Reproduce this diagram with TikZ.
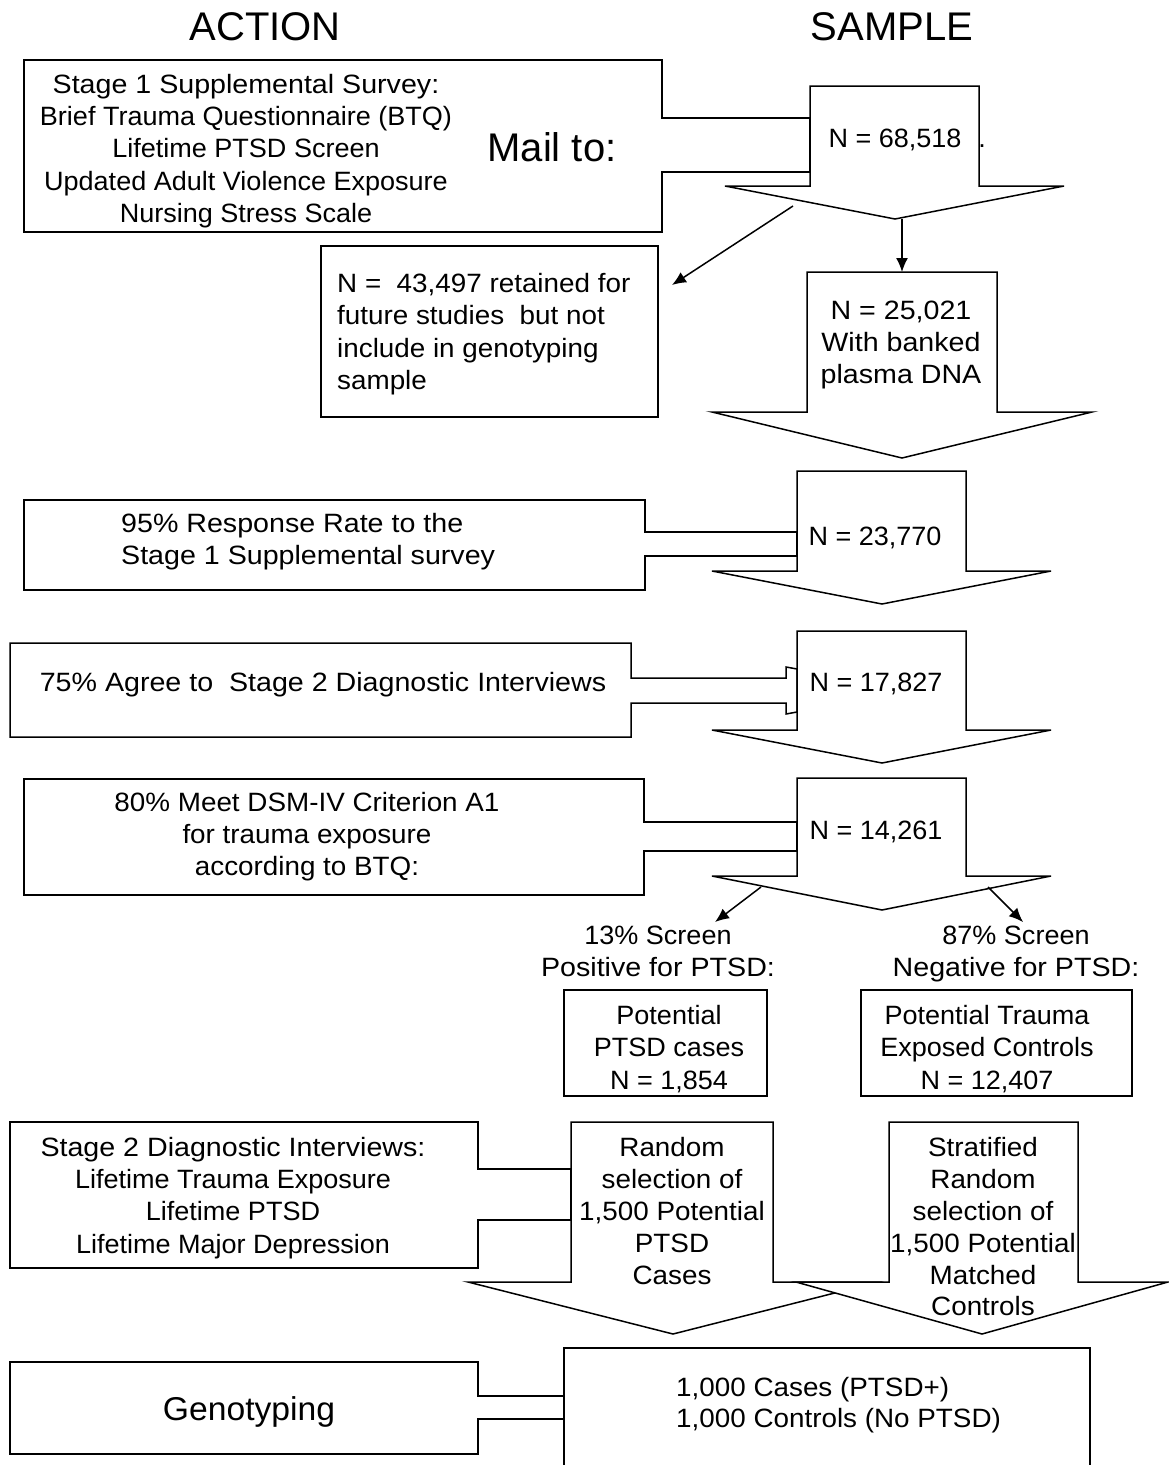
\documentclass[tikz,border=0pt]{standalone}
\usepackage{fontspec}
\setmainfont{Liberation Sans}
\newfontfamily\fA{Liberation Sans}[FakeStretch=1.02]
\newfontfamily\fB{Liberation Sans}[FakeStretch=1.05]
\newfontfamily\fC{Liberation Sans}[FakeStretch=1.08]
\usetikzlibrary{arrows.meta}
\tikzset{
  shp/.style={draw, line width=1.5pt, fill=white, line join=miter},
  arr/.style={line width=1.5pt, -{Latex[length=14pt,width=12pt]}},
  txt/.style={inner sep=0pt, align=center, font=\fontsize{26.5}{32.2}\fA},
  txtl/.style={inner sep=0pt, align=left, font=\fontsize{26.5}{32.2}\fA},
  big/.style={inner sep=0pt, font=\fontsize{40}{44}\selectfont},
}
\begin{document}
\begin{tikzpicture}[x=1pt,y=-1pt]
\useasboundingbox (0,0) rectangle (1169,1465);
\fill[white] (0,0) rectangle (1169,1465);

% headers
\node[big] (action) at (265,27) {ACTION};
\node[big] (sample) at (892,27) {SAMPLE};

% row 1
\draw[shp] (24,60) -- (662,60) -- (662,118) -- (810,118) -- (810,172) -- (662,172) -- (662,232) -- (24,232) -- cycle;
\draw[shp] (810,86) -- (979,86) -- (979,186) -- (1064,186) -- (895,219) -- (725,186) -- (810,186) -- cycle;
\node[txt] (s1) at (246,151) {{\fC Stage 1 Supplemental Survey:}\\Brief Trauma Questionnaire (BTQ)\\Lifetime PTSD Screen\\Updated Adult Violence Exposure\\Nursing Stress Scale};
\node[big] (mail) at (552,147) {Mail to:};
\node[txt] (n1) at (895,140) {N = 68,518};
\node[txt] (dot) at (982,146) {.};

% arrows out of first arrow
\coordinate (a1s) at (902,219);
\coordinate (a1e) at (902,272);
\coordinate (a2s) at (793,206);
\coordinate (a2e) at (672,285);
\draw[arr] (a1s) -- (a1e);
\draw[arr] (a2s) -- (a2e);

% retained box
\draw[shp] (321,246) rectangle (658,417);
\node[txtl, anchor=west, font=\fontsize{26.5}{32.3}\fB] (ret) at (337,334) {N =~~43,497 retained for\\future studies~~but not\\include in genotyping\\sample};

% banked DNA
\draw[shp] (807,272) -- (997,272) -- (997,412) -- (1092,412) -- (902,458) -- (712,412) -- (807,412) -- cycle;
\node[txt, font=\fontsize{26.5}{32.2}\fC] (n2) at (901,345) {N = 25,021\\With banked\\plasma DNA};

% row 3
\draw[shp] (24,500) -- (645,500) -- (645,532) -- (797,532) -- (797,556) -- (645,556) -- (645,590) -- (24,590) -- cycle;
\draw[shp] (797,471) -- (966,471) -- (966,571) -- (1051,571) -- (882,604) -- (712,571) -- (797,571) -- cycle;
\node[txtl, anchor=west, font=\fontsize{26.5}{32.2}\fC] (r3) at (121,542) {95\% Response Rate to the\\Stage 1 Supplemental survey};
\node[txt] (n3) at (875,538) {N = 23,770};

% row 4
\draw[shp] (10,643) -- (631,643) -- (631,678) -- (786,678) -- (786,667) -- (797,669) -- (797,712) -- (786,714) -- (786,703) -- (631,703) -- (631,737) -- (10,737) -- cycle;
\draw[shp] (797,631) -- (966,631) -- (966,730) -- (1051,730) -- (882,763) -- (712,730) -- (797,730) -- cycle;
\node[txt, font=\fontsize{26.5}{32.2}\fC] (r4) at (323,685) {75\% Agree to~~Stage 2 Diagnostic Interviews};
\node[txt] (n4) at (876,684) {N = 17,827};

% row 5
\draw[shp] (24,779) -- (644,779) -- (644,822) -- (797,822) -- (797,851) -- (644,851) -- (644,895) -- (24,895) -- cycle;
\draw[shp] (797,778) -- (966,778) -- (966,876) -- (1051,876) -- (882,910) -- (712,876) -- (797,876) -- cycle;
\node[txt, font=\fontsize{26.5}{32.2}\fB] (r5) at (307,836.5) {80\% Meet DSM-IV Criterion A1\\for trauma exposure\\according to BTQ:};
\node[txt] (n5) at (876,832) {N = 14,261};

\coordinate (a3s) at (761,887);
\coordinate (a3e) at (715,922);
\coordinate (a4s) at (988,887);
\coordinate (a4e) at (1023,922);
\draw[arr] (a3s) -- (a3e);
\draw[arr] (a4s) -- (a4e);

\node[txt] (pos) at (658,951) {13\% Screen\\{\fC Positive for PTSD:}};
\node[txt] (neg) at (1016,954) {87\% Screen\\{\fC Negative for PTSD:}};

\draw[shp] (564,990) rectangle (767,1096);
\node[txt] (pc) at (669,1049) {Potential\\PTSD cases\\N = 1,854};
\draw[shp] (861,990) rectangle (1132,1096);
\node[txt] (tc) at (987,1049) {Potential Trauma\\Exposed Controls\\N = 12,407};

% row 6
\draw[shp] (10,1122) -- (478,1122) -- (478,1169) -- (571,1169) -- (571,1220) -- (478,1220) -- (478,1268) -- (10,1268) -- cycle;
\node[txt] (r6) at (233,1198) {{\fC Stage 2 Diagnostic Interviews:}\\Lifetime Trauma Exposure\\Lifetime PTSD\\Lifetime Major Depression};
\draw[shp] (571,1122) -- (773,1122) -- (773,1282) -- (878,1282) -- (673,1334) -- (468,1282) -- (571,1282) -- cycle;
\node[txt, font=\fontsize{26.5}{32.0}\fB] (rs) at (672,1211) {Random\\selection of\\1,500 Potential\\PTSD\\Cases};
\draw[shp] (889,1122) -- (1078,1122) -- (1078,1282) -- (1168,1282) -- (982,1334) -- (796,1282) -- (889,1282) -- cycle;
\node[txt, font=\fontsize{26.5}{31.8}\fB] (ss) at (983,1227) {Stratified\\Random\\selection of\\1,500 Potential\\Matched\\Controls};

% row 7
\draw[shp] (564,1480) -- (564,1348) -- (1090,1348) -- (1090,1480);
\draw[shp] (10,1362) -- (478,1362) -- (478,1396) -- (564,1396) -- (564,1419) -- (478,1419) -- (478,1454) -- (10,1454) -- cycle;
\node[inner sep=0pt, font=\fontsize{33}{38}\fA] (geno) at (249,1412) {Genotyping};
\node[txtl, anchor=west, font=\fontsize{26.5}{31.5}\fB] (fin) at (676,1405) {1,000 Cases (PTSD+)\\1,000 Controls (No PTSD)};
\end{tikzpicture}
\end{document}
